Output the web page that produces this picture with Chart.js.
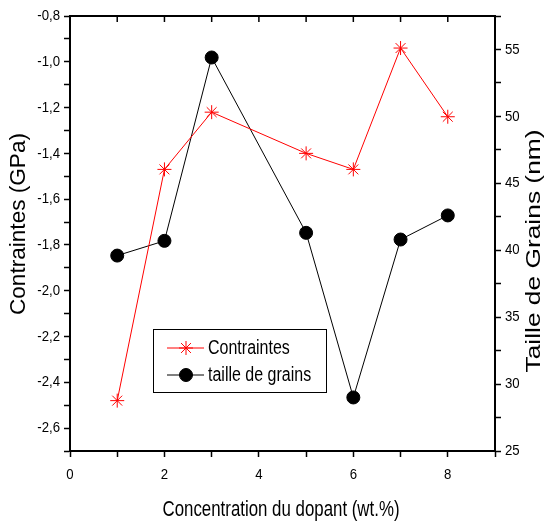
<!DOCTYPE html>
<html>
<head>
<meta charset="utf-8">
<script src="https://cdn.jsdelivr.net/npm/chart.js@4/dist/chart.umd.min.js"></script>
<style>
    body { margin: 0; background: #fff; }
</style>
</head>
<body>
<canvas id="chart" width="544" height="527"></canvas>
<script>
// Données
const concentration = [1, 2, 3, 5, 6, 7, 8];
const contraintes = [-2.48, -1.47, -1.22, -1.40, -1.47, -0.94, -1.24];
const tailleGrains = [39.6, 40.7, 54.4, 41.3, 29.0, 40.8, 42.6];

const family = "'Liberation Sans', Arial, sans-serif";
const squeeze = 0.88; // le texte de la figure est un peu étroit

const toPoints = (ys) => concentration.map((x, i) => ({ x: x, y: ys[i] }));

// texte éventuellement comprimé / étiré le long de sa ligne
function drawText(ctx, text, x, y, opts) {
    ctx.save();
    ctx.translate(x, y);
    if (opts.rotate) ctx.rotate(opts.rotate);
    ctx.font = opts.size + "px " + family;
    let sx = opts.scale || 1;
    if (opts.length) sx = opts.length / ctx.measureText(text).width;
    ctx.scale(sx, 1);
    ctx.textAlign = opts.align || "center";
    ctx.textBaseline = "middle";
    ctx.fillStyle = "#000";
    ctx.fillText(text, 0, 0);
    ctx.restore();
}

const decor = {
    id: "decor",
    afterDraw(chart) {
        const ctx = chart.ctx;
        const area = chart.chartArea;
        const { x, y, y2 } = chart.scales;
        ctx.save();

        // cadre du haut avec graduations vers l'intérieur
        ctx.strokeStyle = "#000";
        ctx.lineWidth = 2;
        ctx.beginPath();
        ctx.moveTo(area.left - 1, area.top);
        ctx.lineTo(area.right + 1, area.top);
        ctx.stroke();
        ctx.lineWidth = 1.5;
        x.ticks.forEach((t) => {
            const px = x.getPixelForValue(t.value);
            ctx.beginPath();
            ctx.moveTo(px, area.top);
            ctx.lineTo(px, area.top + 6);
            ctx.stroke();
        });

        // étiquettes des graduations
        x.ticks.forEach((t) => {
            if (t.label === "") return;
            drawText(ctx, String(t.label), x.getPixelForValue(t.value), 475, { size: 15, scale: squeeze });
        });
        y.ticks.forEach((t) => {
            if (t.label === "") return;
            drawText(ctx, String(t.label), 60, y.getPixelForValue(t.value), { size: 15, scale: squeeze, align: "right" });
        });
        y2.ticks.forEach((t) => {
            if (t.label === "") return;
            drawText(ctx, String(t.label), 505, y2.getPixelForValue(t.value), { size: 15, scale: squeeze, align: "left" });
        });

        // titres des axes
        drawText(ctx, "Concentration du dopant (wt.%)", 281, 510, { size: 22, length: 237 });
        drawText(ctx, "Contraintes (GPa)", 19, 224, { size: 22, length: 182, rotate: -Math.PI / 2 });
        drawText(ctx, "Taille de Grains (nm)", 534, 251, { size: 21, length: 243, rotate: -Math.PI / 2 });

        // légende
        ctx.lineWidth = 1;
        ctx.strokeStyle = "#000";
        ctx.strokeRect(153.5, 329.5, 173, 63);
        chart.data.datasets.forEach((ds, i) => {
            const ly = 348 + i * 27;
            ctx.strokeStyle = ds.borderColor;
            ctx.fillStyle = ds.pointBackgroundColor;
            ctx.beginPath();
            ctx.moveTo(167, ly);
            ctx.lineTo(204, ly);
            ctx.stroke();
            Chart.helpers.drawPoint(ctx, {
                pointStyle: ds.pointStyle,
                radius: ds.pointRadius,
                borderWidth: 1
            }, 186, ly);
            drawText(ctx, ds.label, 208, ly, { size: 20, scale: 0.8, align: "left" });
        });
        ctx.restore();
    }
};

const hidden = "rgba(0,0,0,0)";

new Chart(document.getElementById("chart"), {
    type: "line",
    data: {
        datasets: [
            {
                label: "Contraintes",
                data: toPoints(contraintes),
                yAxisID: "y",
                borderColor: "#ff0000",
                backgroundColor: "#ff0000",
                borderWidth: 1,
                pointStyle: "star",
                pointRadius: 7,
                pointBorderColor: "#ff0000",
                pointBackgroundColor: "#ff0000",
                pointBorderWidth: 1,
                tension: 0,
            },
            {
                label: "taille de grains",
                data: toPoints(tailleGrains),
                yAxisID: "y2",
                borderColor: "#000000",
                backgroundColor: "#000000",
                borderWidth: 1,
                pointStyle: "circle",
                pointRadius: 6.5,
                pointBackgroundColor: "#000000",
                pointBorderColor: "#000000",
                tension: 0,
            },
        ],
    },
    options: {
        responsive: false,
        animation: false,
        layout: { padding: { top: 16, left: 0, right: 0, bottom: 0 } },
        plugins: {
            legend: { display: false },
            tooltip: { enabled: false },
        },
        scales: {
            x: {
                type: "linear",
                min: 0,
                max: 9,
                afterFit: (s) => { s.height = 76; },
                ticks: {
                    stepSize: 1,
                    color: hidden,
                    maxRotation: 0,
                    font: { size: 15, family: family },
                    callback: (v) => (v % 2 === 0 ? String(v) : ""),
                },
                grid: { drawOnChartArea: false, tickLength: 6, tickColor: "#000", tickWidth: 1.5 },
                border: { color: "#000", width: 2 },
            },
            y: {
                position: "left",
                min: -2.7,
                max: -0.8,
                afterFit: (s) => { s.width = 70; },
                ticks: {
                    stepSize: 0.1,
                    color: hidden,
                    font: { size: 15, family: family },
                    callback: (v) => {
                        const n = Math.round(v * 10);
                        return n % 2 === 0 ? (n / 10).toFixed(1).replace(".", ",") : "";
                    },
                },
                grid: { drawOnChartArea: false, tickLength: 6, tickColor: "#000", tickWidth: 1.5 },
                border: { color: "#000", width: 2 },
            },
            y2: {
                position: "right",
                min: 25,
                max: 57.5,
                afterFit: (s) => { s.width = 49; },
                ticks: {
                    stepSize: 2.5,
                    color: hidden,
                    font: { size: 15, family: family },
                    callback: (v) => (v % 5 === 0 ? String(v) : ""),
                },
                grid: { drawOnChartArea: false, tickLength: 6, tickColor: "#000", tickWidth: 1.5 },
                border: { color: "#000", width: 2 },
            },
        },
    },
    plugins: [decor],
});
</script>
</body>
</html>
